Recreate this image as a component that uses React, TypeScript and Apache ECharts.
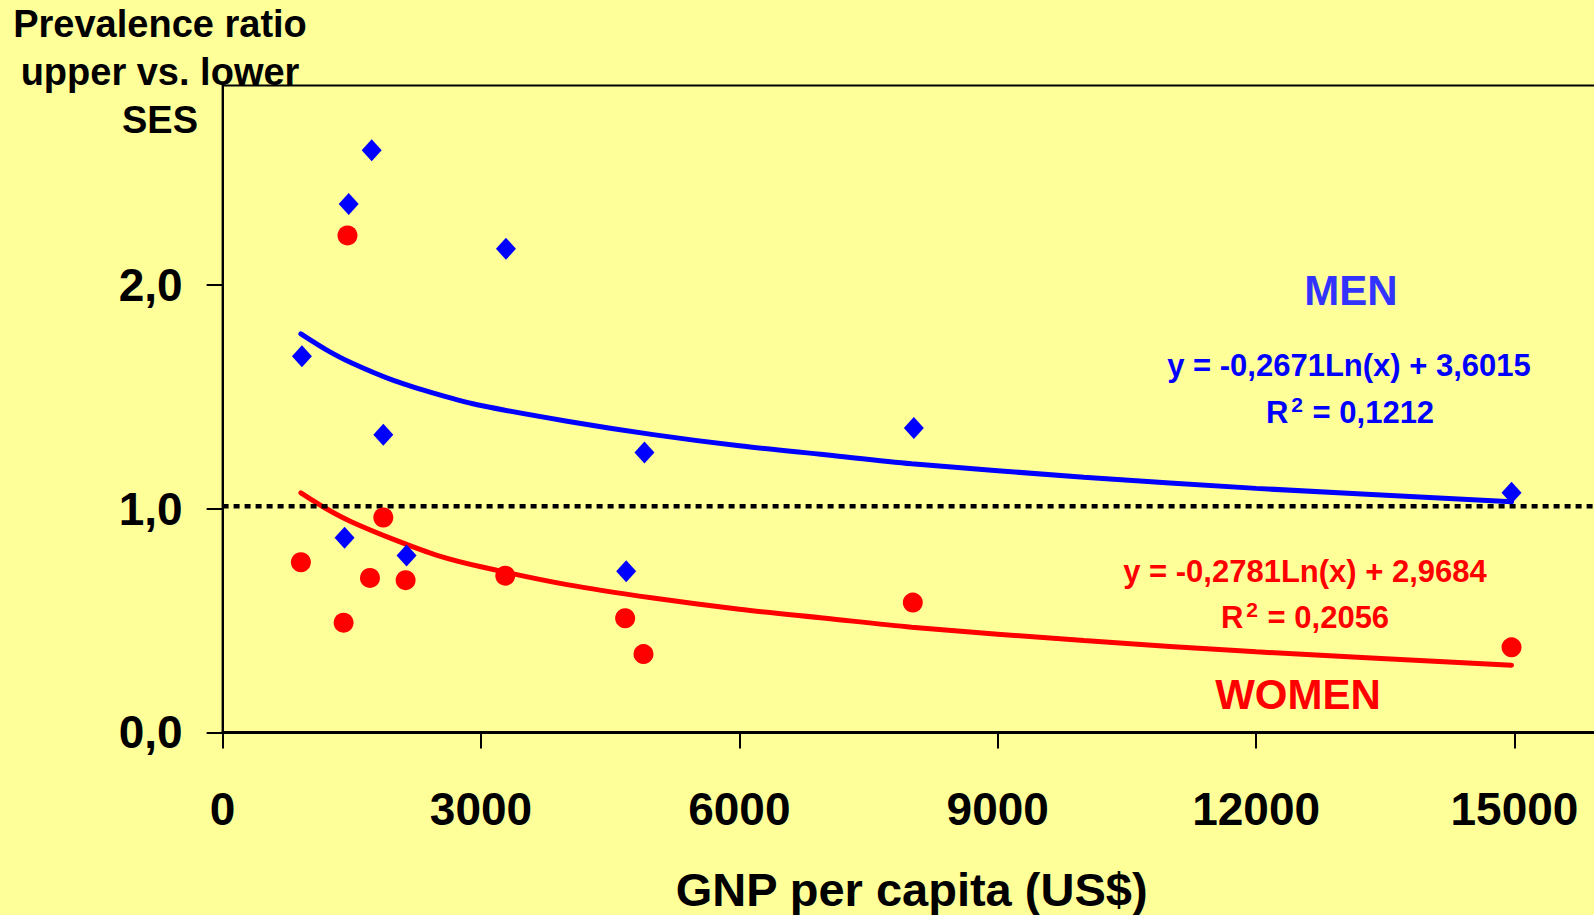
import { useEffect, useRef } from 'react';
import * as echarts from 'echarts';

// Scatter data (GNP per capita, prevalence ratio)
const menX = [921, 1464, 1731, 3290, 1866, 4898, 8026, 14966, 1416, 2136, 4686];
const menY = [1.68, 2.36, 2.60, 2.16, 1.33, 1.25, 1.36, 1.07, 0.87, 0.79, 0.72];
const womenX = [1450, 909, 1866, 1405, 1711, 2125, 3282, 4674, 4887, 8014, 14966];
const womenY = [2.22, 0.76, 0.96, 0.49, 0.69, 0.68, 0.70, 0.51, 0.35, 0.58, 0.38];

// Logarithmic trend lines
const trendX = [909, 1200, 1500, 2000, 2500, 3000, 4000, 5000, 6000, 7000, 8000, 10000, 12000, 14966];
const menTrendY = [1.78, 1.71, 1.65, 1.57, 1.51, 1.46, 1.39, 1.33, 1.28, 1.24, 1.20, 1.14, 1.09, 1.03];
const womenTrendY = [1.07, 1.00, 0.94, 0.86, 0.79, 0.74, 0.66, 0.60, 0.55, 0.51, 0.47, 0.41, 0.36, 0.30];

// Axes
const xTicks = [0, 3000, 6000, 9000, 12000, 15000];
const yTicks = [0, 1, 2];
const xMax = 16000;
const yMax = 2.89;
const refLevel = 1.01;

const FONT = "'Liberation Sans', Arial, sans-serif";

export default function App() {
  const ref = useRef<HTMLDivElement>(null);
  useEffect(() => {
    const chart = echarts.init(ref.current!, null, { renderer: 'svg' });
    chart.setOption({
      animation: false,
      backgroundColor: '#ffff99',
      textStyle: { fontFamily: FONT },
      grid: {
        left: 222.6,
        top: 85.4,
        width: 1378,
        height: 647,
        show: true,
        backgroundColor: 'transparent',
        borderColor: '#000',
        borderWidth: 2,
        containLabel: false,
        outerBoundsMode: 'none',
      },
      xAxis: {
        type: 'value',
        min: 0,
        max: xMax,
        splitLine: { show: false },
        axisLine: { show: true, onZero: false, lineStyle: { color: '#000', width: 3 } },
        axisTick: { show: true, length: 16, inside: false, customValues: xTicks, lineStyle: { color: '#000', width: 2 } },
        axisLabel: {
          customValues: xTicks,
          fontSize: 46,
          fontWeight: 'bold',
          color: '#000',
          fontFamily: FONT,
          margin: 54,
          formatter: (v: number) => String(v),
        },
        name: 'GNP per capita (US$)',
        nameLocation: 'middle',
        nameGap: 134,
        nameTextStyle: { fontSize: 47, fontWeight: 'bold', color: '#000', fontFamily: FONT },
      },
      yAxis: {
        type: 'value',
        min: 0,
        max: yMax,
        splitLine: { show: false },
        axisLine: { show: true, onZero: false, lineStyle: { color: '#000', width: 2 } },
        axisTick: { show: true, length: 16, inside: false, customValues: yTicks, lineStyle: { color: '#000', width: 2 } },
        axisLabel: {
          customValues: yTicks,
          fontSize: 46,
          fontWeight: 'bold',
          color: '#000',
          fontFamily: FONT,
          margin: 40,
          formatter: (v: number) => v.toFixed(1).replace('.', ','),
        },
      },
      graphic: [
        {
          type: 'text',
          x: 160,
          y: 0,
          style: {
            text: 'Prevalence ratio\nupper vs. lower\nSES',
            fontSize: 38,
            fontWeight: 'bold',
            fontFamily: FONT,
            fill: '#000',
            align: 'center',
            verticalAlign: 'top',
            lineHeight: 48,
          },
        },
        {
          type: 'text',
          x: 1351,
          y: 290,
          style: { text: 'MEN', fontSize: 42, fontWeight: 'bold', fontFamily: FONT, fill: '#3333ff', align: 'center', verticalAlign: 'middle' },
        },
        {
          type: 'text',
          x: 1349,
          y: 365,
          style: { text: 'y = -0,2671Ln(x) + 3,6015', fontSize: 31, fontWeight: 'bold', fontFamily: FONT, fill: '#0000ff', align: 'center', verticalAlign: 'middle' },
        },
        {
          type: 'text',
          x: 1350,
          y: 412,
          style: {
            text: '{a|R}{b|2}{a| = 0,1212}',
            align: 'center',
            verticalAlign: 'middle',
            fill: '#0000ff',
            fontFamily: FONT,
            fontWeight: 'bold',
            rich: {
              a: { fontSize: 31, lineHeight: 36, fontWeight: 'bold', fontFamily: FONT, fill: '#0000ff', color: '#0000ff' },
              b: { fontSize: 21, lineHeight: 21, verticalAlign: 'top', fontWeight: 'bold', fontFamily: FONT, fill: '#0000ff', color: '#0000ff', padding: [0, 1, 0, 3] },
            },
          },
        },
        {
          type: 'text',
          x: 1305,
          y: 571,
          style: { text: 'y = -0,2781Ln(x) + 2,9684', fontSize: 31, fontWeight: 'bold', fontFamily: FONT, fill: '#ff0000', align: 'center', verticalAlign: 'middle' },
        },
        {
          type: 'text',
          x: 1305,
          y: 617,
          style: {
            text: '{a|R}{b|2}{a| = 0,2056}',
            align: 'center',
            verticalAlign: 'middle',
            fill: '#ff0000',
            fontFamily: FONT,
            fontWeight: 'bold',
            rich: {
              a: { fontSize: 31, lineHeight: 36, fontWeight: 'bold', fontFamily: FONT, fill: '#ff0000', color: '#ff0000' },
              b: { fontSize: 21, lineHeight: 21, verticalAlign: 'top', fontWeight: 'bold', fontFamily: FONT, fill: '#ff0000', color: '#ff0000', padding: [0, 1, 0, 3] },
            },
          },
        },
        {
          type: 'text',
          x: 1298,
          y: 694,
          style: { text: 'WOMEN', fontSize: 42, fontWeight: 'bold', fontFamily: FONT, fill: '#ff0000', align: 'center', verticalAlign: 'middle' },
        },
      ],
      series: [
        {
          type: 'line',
          name: 'Men trend',
          data: trendX.map((x, i) => [x, menTrendY[i]]),
          symbol: 'none',
          smooth: 0.3,
          lineStyle: { color: '#0000ff', width: 5, cap: 'round' },
          z: 2,
        },
        {
          type: 'line',
          name: 'Women trend',
          data: trendX.map((x, i) => [x, womenTrendY[i]]),
          symbol: 'none',
          smooth: 0.3,
          lineStyle: { color: '#ff0000', width: 5, cap: 'round' },
          z: 2,
        },
        {
          type: 'line',
          name: 'Reference',
          data: [[0, refLevel], [xMax, refLevel]],
          symbol: 'none',
          lineStyle: { color: '#000', width: 4.5, type: [6, 5] },
          z: 3,
        },
        {
          type: 'scatter',
          name: 'MEN',
          data: menX.map((x, i) => [x, menY[i]]),
          symbol: 'diamond',
          symbolSize: [20, 22],
          itemStyle: { color: '#0000ff', opacity: 1 },
          z: 5,
        },
        {
          type: 'scatter',
          name: 'WOMEN',
          data: womenX.map((x, i) => [x, womenY[i]]),
          symbol: 'circle',
          symbolSize: 20,
          itemStyle: { color: '#ff0000', opacity: 1 },
          z: 5,
        },
      ],
    });
    return () => chart.dispose();
  }, []);
  return <div ref={ref} style={{ position: 'absolute', left: 0, top: 0, width: 1594, height: 915 }} />;
}
